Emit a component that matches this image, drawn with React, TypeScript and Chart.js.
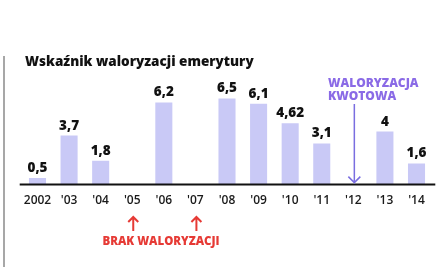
import React, { useEffect, useRef } from "react";
import { Chart, registerables } from "chart.js";

Chart.register(...registerables);

const categories = ["2002", "'03", "'04", "'05", "'06", "'07", "'08", "'09", "'10", "'11", "'12", "'13", "'14"];
const values: (number | null)[] = [0.5, 3.7, 1.8, null, 6.2, null, 6.5, 6.1, 4.62, 3.1, null, 4, 1.6];
const valueLabels = ["0,5", "3,7", "1,8", "", "6,2", "", "6,5", "6,1", "4,62", "3,1", "", "4", "1,6"];
const titleText = "Wskaźnik waloryzacji emerytury";
const noIndexText = "BRAK WALORYZACJI";
const noIndexCats = ["'05", "'07"];
const flatText = ["WALORYZACJA", "KWOTOWA"];
const flatCat = "'12";

const FONT = "'Open Sans', 'DejaVu Sans', sans-serif";

const overlay = {
  id: "overlay",
  afterDraw(chart: any) {
    const ctx = chart.ctx as CanvasRenderingContext2D;
    const area = chart.chartArea;
    const xs = chart.scales.x;
    const meta = chart.getDatasetMeta(0);
    ctx.save();
    // left gray rule
    ctx.strokeStyle = "#8a8a8a";
    ctx.lineWidth = 1.5;
    ctx.beginPath();
    ctx.moveTo(4, 56);
    ctx.lineTo(4, 267);
    ctx.stroke();
    // title
    ctx.fillStyle = "#111";
    ctx.font = `800 13.5px ${FONT}`;
    ctx.textBaseline = "middle";
    ctx.textAlign = "left";
    ctx.fillText(titleText, 25, 62);
    // baseline
    ctx.strokeStyle = "#111";
    ctx.lineWidth = 2;
    ctx.beginPath();
    ctx.moveTo(area.left - 2, area.bottom);
    ctx.lineTo(area.right + 3, area.bottom);
    ctx.stroke();
    // value labels
    ctx.font = `800 13.5px ${FONT}`;
    ctx.textAlign = "center";
    ctx.textBaseline = "alphabetic";
    ctx.fillStyle = "#111";
    meta.data.forEach((bar: any, i: number) => {
      if (values[i] == null) return;
      ctx.fillText(valueLabels[i], bar.x, bar.y - 6);
    });
    // red arrows
    ctx.strokeStyle = "#e63a35";
    ctx.fillStyle = "#e63a35";
    ctx.lineWidth = 2;
    noIndexCats.forEach((c) => {
      const x = xs.getPixelForValue(categories.indexOf(c)) + 1;
      ctx.beginPath();
      ctx.moveTo(x, 231);
      ctx.lineTo(x, 217);
      ctx.moveTo(x - 5, 222);
      ctx.lineTo(x, 217);
      ctx.lineTo(x + 5, 222);
      ctx.stroke();
    });
    ctx.font = `800 11.5px ${FONT}`;
    ctx.textAlign = "center";
    ctx.textBaseline = "middle";
    ctx.fillText(noIndexText, 161, 242);
    // purple arrow
    const px = xs.getPixelForValue(categories.indexOf(flatCat)) + 1;
    ctx.strokeStyle = "#7a6ee0";
    ctx.lineWidth = 1.5;
    ctx.beginPath();
    ctx.moveTo(px, 104);
    ctx.lineTo(px, area.bottom - 2);
    ctx.moveTo(px - 6, area.bottom - 8);
    ctx.lineTo(px, area.bottom - 2);
    ctx.lineTo(px + 6, area.bottom - 8);
    ctx.stroke();
    ctx.fillStyle = "#8a6ae6";
    ctx.font = `800 12px ${FONT}`;
    ctx.textAlign = "left";
    ctx.fillText(flatText[0], 328, 84);
    ctx.fillText(flatText[1], 328, 97);
    ctx.restore();
  },
};

export default function App() {
  const ref = useRef<HTMLCanvasElement>(null);
  useEffect(() => {
    const chart = new Chart(ref.current!, {
      type: "bar",
      data: {
        labels: categories,
        datasets: [
          {
            data: values,
            backgroundColor: "#c9c9f6",
            categoryPercentage: 1,
            barPercentage: 0.54,
          },
        ],
      },
      options: {
        animation: false,
        responsive: true,
        maintainAspectRatio: false,
        layout: { padding: { left: 21.7, right: 10.7, top: 52, bottom: 50 } },
        plugins: { legend: { display: false }, tooltip: { enabled: false }, title: { display: false } },
        scales: {
          x: {
            grid: { display: false, drawTicks: false },
            border: { display: false },
            ticks: { color: "#1a1a1a", font: { family: FONT, size: 12, weight: "600" }, padding: 9, maxRotation: 0, autoSkip: false },
          },
          y: { display: false, min: 0, max: 10 },
        },
      },
      plugins: [overlay],
    });
    return () => chart.destroy();
  }, []);
  return (
    <div style={{ position: "fixed", left: 0, top: 0, width: 443, height: 267, background: "#fff" }}>
      <canvas ref={ref} />
    </div>
  );
}
